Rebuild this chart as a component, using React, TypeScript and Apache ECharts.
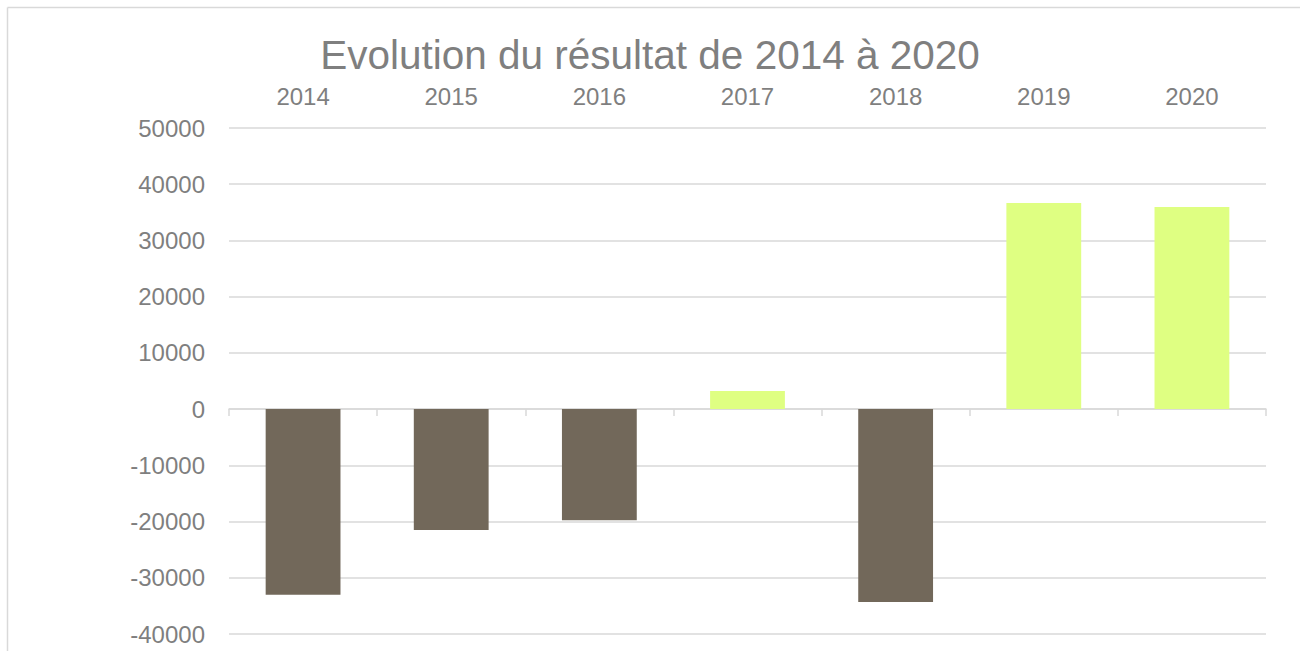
import React, { useEffect, useRef } from "react";
import * as echarts from "echarts";

const years = ["2014", "2015", "2016", "2017", "2018", "2019", "2020"];
const results = [-33000, -21500, -19750, 3200, -34300, 36650, 35950];
const NEG_COLOR = "#72685A";
const POS_COLOR = "#DFFF82";
const TEXT_COLOR = "#7f7f7f";
const GRID_COLOR = "#d9d9d9";

export default function App() {
  const ref = useRef<HTMLDivElement>(null);
  useEffect(() => {
    if (!ref.current) return;
    const chart = echarts.init(ref.current, undefined, { renderer: "svg" });
    chart.setOption({
      animation: false,
      backgroundColor: "#ffffff",
      textStyle: { fontFamily: "Liberation Sans" },
      title: {
        text: "Evolution du résultat de 2014 à 2020",
        left: "center",
        top: 29,
        textStyle: { fontSize: 40.5, fontWeight: "normal", color: TEXT_COLOR, fontFamily: "Liberation Sans" },
      },
      graphic: [
        { type: "line", shape: { x1: 7.5, y1: 7.5, x2: 1300, y2: 7.5 }, style: { stroke: GRID_COLOR, lineWidth: 1.5 } },
        { type: "line", shape: { x1: 7.5, y1: 7.5, x2: 7.5, y2: 651 }, style: { stroke: GRID_COLOR, lineWidth: 1.5 } },
      ],
      grid: { left: 229, right: 34, top: 128, bottom: 17, containLabel: false },
      xAxis: [
        {
          type: "category",
          data: years,
          position: "top",
          axisLine: { show: false, onZero: false },
          axisTick: { show: false },
          axisLabel: { color: TEXT_COLOR, fontSize: 24, margin: 20 },
        },
        {
          type: "category",
          data: years,
          position: "bottom",
          axisLine: { show: true, onZero: true, lineStyle: { color: GRID_COLOR, width: 1.5 } },
          axisTick: { show: true, length: 7, lineStyle: { color: GRID_COLOR, width: 1.5 } },
          axisLabel: { show: false },
        },
      ],
      yAxis: {
        type: "value",
        min: -40000,
        max: 50000,
        interval: 10000,
        axisLine: { show: false },
        axisTick: { show: false },
        axisLabel: { color: TEXT_COLOR, fontSize: 24, margin: 24, formatter: (v: number) => String(v) },
        splitLine: { lineStyle: { color: GRID_COLOR, width: 1.5 } },
      },
      series: [
        {
          type: "bar",
          xAxisIndex: 0,
          barWidth: "50.5%",
          data: results.map((v) => ({
            value: v,
            itemStyle: { color: v < 0 ? NEG_COLOR : POS_COLOR },
          })),
        },
      ],
    });
    return () => chart.dispose();
  }, []);
  return (
    <div
      ref={ref}
      style={{ position: "fixed", left: 0, top: 0, width: 1300, height: 651 }}
    />
  );
}
